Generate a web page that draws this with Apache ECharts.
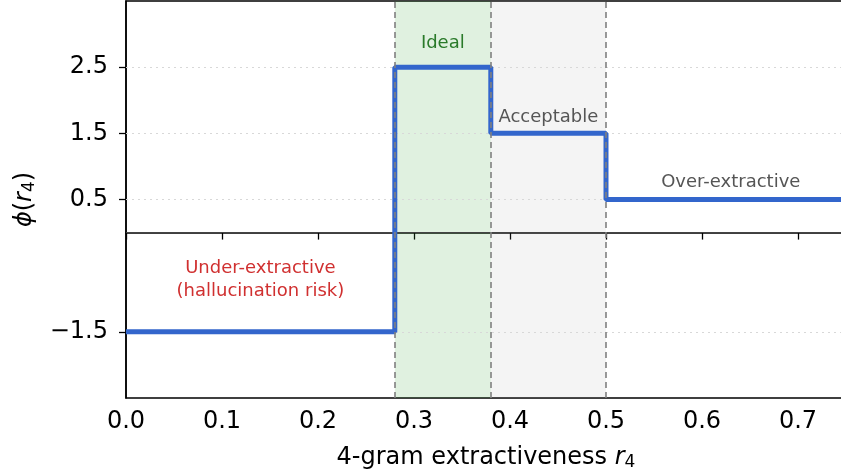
<!DOCTYPE html>
<html>
<head>
<meta charset="utf-8">
<script src="https://cdn.jsdelivr.net/npm/echarts@6/dist/echarts.min.js"></script>
<style>
  html, body { margin: 0; padding: 0; background: #fff; }
  #chart { width: 841px; height: 476px; }
</style>
</head>
<body>
<div id="chart"></div>
<script>
// step function phi(r4)
const stepX = [0, 0.28, 0.38, 0.5, 0.75];
const stepY = [-1.5, 2.5, 1.5, 0.5, 0.5];

const yTicks = [2.5, 1.5, 0.5, -1.5];
const xTicks = [0, 0.1, 0.2, 0.3, 0.4, 0.5, 0.6, 0.7];

// shaded zones [from, to]
const idealZone = [0.28, 0.38];
const acceptZone = [0.38, 0.5];
const boundaries = [0.28, 0.38, 0.5];

// annotations
const annText = ['Ideal', 'Acceptable', 'Over-extractive', 'Under-extractive\n(hallucination risk)'];
const annX = [0.33, 0.44, 0.63, 0.14];
const annY = [2.86, 1.74, 0.76, -0.72];

const annColors = ['#2a7a2a', '#555555', '#555555', '#d03030'];
const FONT = '"DejaVu Sans", sans-serif';

const chart = echarts.init(document.getElementById('chart'));

const nameRich = {
  i: { fontStyle: 'italic', fontSize: 24, fontFamily: FONT, color: '#000' },
  s: { fontSize: 17, fontFamily: FONT, color: '#000', padding: [9, 0, 0, 0] }
};

const option = {
  animation: false,
  grid: {
    left: 126, top: 1, width: 720, height: 397,
    outerBoundsMode: 'none', containLabel: false,
    show: true, borderColor: '#000', borderWidth: 1.5, backgroundColor: 'transparent'
  },
  xAxis: {
    type: 'value', min: 0, max: 0.75, interval: 0.1,
    axisLine: { show: true, lineStyle: { color: '#000', width: 1.5 } },
    axisTick: { show: true, length: 7, customValues: xTicks, lineStyle: { color: '#000', width: 1.3 } },
    axisLabel: {
      color: '#000', fontSize: 24, fontFamily: FONT, margin: 12,
      customValues: xTicks,
      formatter: v => v.toFixed(1)
    },
    splitLine: { show: false },
    name: '4-gram extractiveness {i|r}{s|4}',
    nameLocation: 'middle', nameGap: 47,
    nameTextStyle: { color: '#000', fontSize: 24, fontFamily: FONT, rich: nameRich }
  },
  yAxis: {
    type: 'value', min: -2.5, max: 3.5,
    axisLine: { show: true, lineStyle: { color: '#000', width: 1.5 } },
    axisTick: { show: true, length: 7, customValues: yTicks, lineStyle: { color: '#000', width: 1.3 } },
    axisLabel: {
      color: '#000', fontSize: 24, fontFamily: FONT, margin: 18,
      customValues: yTicks,
      formatter: v => (v < 0 ? '\u2212' + Math.abs(v).toFixed(1) : v.toFixed(1))
    },
    splitLine: { show: false },
    name: '{i|\u03d5}({i|r}{s|4})',
    nameLocation: 'middle', nameGap: 88, nameRotate: 90,
    nameTextStyle: { color: '#000', fontSize: 24, fontFamily: FONT, rich: nameRich }
  },
  series: [
    {
      // shaded zones + reference lines, under the step line
      type: 'line', data: [], z: 1, silent: true,
      markArea: {
        silent: true, z: 1,
        data: [
          [{ xAxis: idealZone[0], itemStyle: { color: 'rgba(44,160,44,0.15)' } }, { xAxis: idealZone[1] }],
          [{ xAxis: acceptZone[0], itemStyle: { color: 'rgba(150,150,150,0.1)' } }, { xAxis: acceptZone[1] }]
        ]
      },
      markLine: {
        silent: true, z: 2, symbol: 'none', label: { show: false },
        data: yTicks.map(v => ({ yAxis: v, lineStyle: { color: '#d8d8d8', type: [2, 4], width: 1.2 } }))
          .concat([{ yAxis: 0, lineStyle: { color: '#444', type: 'solid', width: 1 } }])
      }
    },
    {
      type: 'line', step: 'end', z: 3,
      data: stepX.map((x, i) => [x, stepY[i]]),
      showSymbol: false, symbol: 'none',
      lineStyle: { color: '#3366cc', width: 5 },
      itemStyle: { color: '#3366cc' }
    },
    {
      type: 'line', data: [], z: 4, silent: true,
      markLine: {
        silent: true, z: 6, symbol: 'none', label: { show: false },
        lineStyle: { color: '#808080', type: [6, 4], width: 1.6 },
        data: boundaries.map(v => ({ xAxis: v }))
      }
    },
    {
      type: 'scatter', z: 7, symbolSize: 0, silent: true,
      itemStyle: { color: 'transparent', opacity: 1 },
      data: annText.map((t, i) => ({
        value: [annX[i], annY[i]],
        label: { formatter: t, color: annColors[i] }
      })),
      label: {
        show: true, position: 'inside', fontSize: 18, fontFamily: FONT,
        lineHeight: 23, align: 'center', verticalAlign: 'middle',
        textBorderWidth: 0, textBorderColor: 'transparent'
      }
    }
  ]
};

chart.setOption(option);
</script>
</body>
</html>
